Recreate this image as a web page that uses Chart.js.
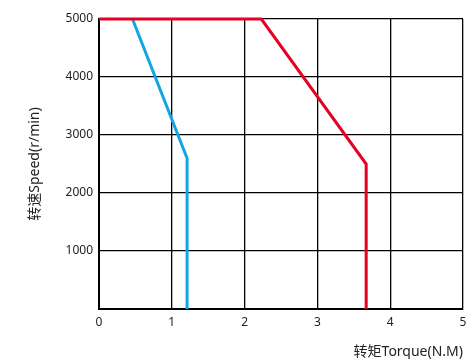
<!DOCTYPE html>
<html>
<head>
<meta charset="utf-8">
<script src="https://cdn.jsdelivr.net/npm/chart.js@4/dist/chart.umd.min.js"></script>
<style>
  html, body { margin: 0; padding: 0; background: #fff; }
  #wrap { width: 474px; height: 359px; }
</style>
</head>
<body>
<div id="wrap"><canvas id="c" width="474" height="359"></canvas></div>
<script>
// Torque–speed curves
const torqueTicks = [0, 1, 2, 3, 4, 5];
const speedTicks = [1000, 2000, 3000, 4000, 5000];

const blueTorque = [0.46, 1.21, 1.21];
const blueSpeed  = [5000, 2600, 0];

const redTorque = [0, 2.23, 3.67, 3.67];
const redSpeed  = [5000, 5000, 2500, 0];

const toPoints = (xs, ys) => xs.map((x, i) => ({ x: x, y: ys[i] }));

const FONT = "'Noto Sans', 'Noto Sans CJK SC', sans-serif";

new Chart(document.getElementById('c'), {
  type: 'scatter',
  data: {
    datasets: [
      {
        data: toPoints(redTorque, redSpeed),
        showLine: true,
        borderColor: '#e60023',
        borderWidth: 3,
        pointRadius: 0,
        clip: false,
        tension: 0
      },
      {
        data: toPoints(blueTorque, blueSpeed),
        showLine: true,
        borderColor: '#12a4e4',
        borderWidth: 3,
        pointRadius: 0,
        clip: false,
        tension: 0
      }
    ]
  },
  options: {
    responsive: false,
    animation: false,
    layout: { padding: { top: 19, right: 11, bottom: 0, left: 0 } },
    plugins: { legend: { display: false }, tooltip: { enabled: false } },
    scales: {
      x: {
        type: 'linear',
        min: 0, max: 5,
        afterBuildTicks: s => { s.ticks = torqueTicks.map(v => ({ value: v })); },
        afterFit: s => { s.height = 50; },
        grid: { color: '#000', lineWidth: 1.3, drawTicks: false },
        border: { color: '#000', width: 2 },
        ticks: { padding: 6, color: '#222', font: { family: FONT, size: 12 }, callback: v => String(v) },
        title: {
          display: true,
          text: '转矩Torque(N.M)',
          align: 'end',
          color: '#222',
          font: { family: FONT, size: 14, lineHeight: 1 },
          padding: { top: -2, bottom: 0 }
        }
      },
      y: {
        type: 'linear',
        min: 0, max: 5000,
        afterBuildTicks: s => { s.ticks = speedTicks.map(v => ({ value: v })); },
        afterFit: s => { s.width = 99; },
        grid: { color: '#000', lineWidth: 1.3, drawTicks: false },
        border: { color: '#000', width: 2 },
        ticks: { padding: 6, color: '#222', font: { family: FONT, size: 12 }, callback: v => String(v) },
        title: {
          display: true,
          text: '转速Speed(r/min)',
          color: '#222',
          font: { family: FONT, size: 14, lineHeight: 1 },
          padding: { top: 28, bottom: 0 }
        }
      }
    }
  }
});
</script>
</body>
</html>
